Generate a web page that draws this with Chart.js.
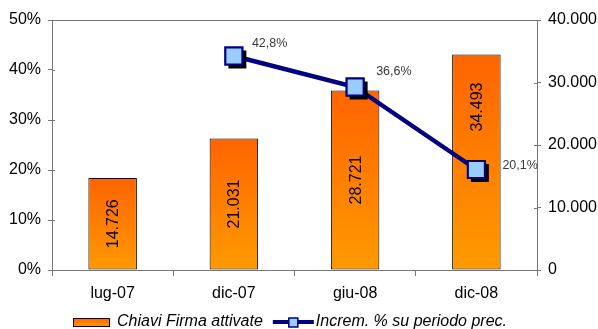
<!DOCTYPE html>
<html>
<head>
<meta charset="utf-8">
<script src="https://cdn.jsdelivr.net/npm/chart.js@4/dist/chart.umd.min.js"></script>
<style>
  html, body { margin: 0; padding: 0; background: #ffffff; }
  #wrap { width: 598px; height: 329px; }
</style>
</head>
<body>
<div id="wrap"><canvas id="c" width="598" height="329"></canvas></div>
<script>
// Periods on the x axis
const categories = ['lug-07', 'dic-07', 'giu-08', 'dic-08'];
// Signature keys activated (right axis)
const chiaviAttivate = [14726, 21031, 28721, 34493];
// Percent increase over the previous period (left axis)
const incremento = [null, 42.8, 36.6, 20.1];
// Axis ticks
const leftTicks = [0, 10, 20, 30, 40, 50];
const rightTicks = [0, 10000, 20000, 30000, 40000];

const FONT = '"Liberation Sans", Arial, sans-serif';
const AXIS_COLOR = '#767676';
const NAVY = '#000080';
const MARKER_FILL = '#99CCFF';

const fmtThousands = v => String(Math.round(v)).replace(/\B(?=(\d{3})+(?!\d))/g, '.');
const fmtPct = v => v.toFixed(1).replace('.', ',') + '%';

function barGradient(c) {
  const chart = c.chart;
  if (!chart.chartArea || c.type !== 'data') return '#FF7F00';
  const s = chart.scales.y2;
  const top = s.getPixelForValue(c.raw);
  const base = s.getPixelForValue(0);
  const g = chart.ctx.createLinearGradient(0, top, 0, base);
  g.addColorStop(0, '#FF6400');
  g.addColorStop(1, '#FF9A00');
  return g;
}

// Plot frame top line and inward half of the cross ticks
const framePlugin = {
  id: 'frame',
  beforeDatasetsDraw(chart) {
    const { ctx, chartArea: a, scales } = chart;
    ctx.save();
    ctx.strokeStyle = AXIS_COLOR;
    ctx.lineWidth = 1;
    ctx.beginPath();
    ctx.moveTo(a.left, a.top + 0.5);
    ctx.lineTo(a.right, a.top + 0.5);
    scales.y.ticks.forEach(t => {
      const y = Math.round(scales.y.getPixelForValue(t.value)) + 0.5;
      ctx.moveTo(a.left, y); ctx.lineTo(a.left + 3, y);
    });
    scales.y2.ticks.forEach(t => {
      const y = Math.round(scales.y2.getPixelForValue(t.value)) + 0.5;
      ctx.moveTo(a.right - 3, y); ctx.lineTo(a.right, y);
    });
    ctx.stroke();
    ctx.restore();
  }
};

// Marker drop shadows, value labels and the legend
const labelsPlugin = {
  id: 'valueLabels',
  afterDatasetsDraw(chart, args, opts) {
    const { ctx } = chart;
    const barMeta = chart.getDatasetMeta(0);
    const lineMeta = chart.getDatasetMeta(1);

    // shadows under the markers, then markers redrawn on top
    lineMeta.data.forEach((pt, i) => {
      if (incremento[i] == null) return;
      const half = 12 * Math.SQRT1_2;
      ctx.save();
      ctx.fillStyle = '#000000';
      ctx.fillRect(pt.x - half + 3, pt.y - half + 3, half * 2 + 1, half * 2 + 1);
      ctx.restore();
      pt.draw(ctx, chart.chartArea);
    });

    // bar value labels, rotated
    ctx.save();
    ctx.font = '16px ' + FONT;
    ctx.fillStyle = '#000000';
    ctx.textAlign = 'center';
    ctx.textBaseline = 'middle';
    barMeta.data.forEach((bar, i) => {
      const text = fmtThousands(chiaviAttivate[i]);
      const w = ctx.measureText(text).width;
      let cy = (bar.y + bar.base) / 2;
      const pt = lineMeta.data[i];
      if (incremento[i] != null && pt) {
        const markerTop = pt.y - 10;
        if (pt.y + 10 > cy - w / 2 && markerTop < cy + w / 2) {
          cy = (bar.y + markerTop) / 2;
        }
      }
      ctx.save();
      ctx.translate(bar.x, cy);
      ctx.rotate(-Math.PI / 2);
      ctx.fillText(text, 0, 1);
      ctx.restore();
    });
    ctx.restore();

    // percent labels next to the markers
    ctx.save();
    ctx.font = '12.5px ' + FONT;
    ctx.fillStyle = '#3a3a3a';
    ctx.textAlign = 'left';
    ctx.textBaseline = 'middle';
    lineMeta.data.forEach((pt, i) => {
      if (incremento[i] == null) return;
      const off = opts.offsets[i] || [18, -12];
      ctx.fillText(fmtPct(incremento[i]), pt.x + off[0], pt.y + off[1]);
    });
    ctx.restore();

    // legend
    const ly = 322;
    ctx.save();
    ctx.font = 'italic 16px ' + FONT;
    ctx.textBaseline = 'middle';
    ctx.textAlign = 'left';
    let x = 73;
    const g = ctx.createLinearGradient(0, ly - 4, 0, ly + 5);
    g.addColorStop(0, '#FF6400');
    g.addColorStop(1, '#FF9A00');
    ctx.fillStyle = g;
    ctx.fillRect(x, ly - 4, 37, 9);
    ctx.strokeStyle = '#000000';
    ctx.lineWidth = 1;
    ctx.strokeRect(x + 0.5, ly - 3.5, 36, 8);
    x += 44;
    ctx.fillStyle = '#000000';
    ctx.fillText(chart.data.datasets[0].label, x, ly);
    x += ctx.measureText(chart.data.datasets[0].label).width + 10;
    ctx.strokeStyle = NAVY;
    ctx.lineWidth = 4;
    ctx.beginPath();
    ctx.moveTo(x, ly); ctx.lineTo(x + 41, ly);
    ctx.stroke();
    ctx.fillStyle = MARKER_FILL;
    ctx.lineWidth = 1.5;
    ctx.fillRect(x + 16, ly - 4, 9, 9);
    ctx.strokeRect(x + 16, ly - 4, 9, 9);
    x += 43;
    ctx.fillStyle = '#000000';
    ctx.fillText(chart.data.datasets[1].label, x, ly);
    ctx.restore();
  }
};

new Chart(document.getElementById('c'), {
  data: {
    labels: categories,
    datasets: [
      {
        type: 'bar',
        label: 'Chiavi Firma attivate',
        data: chiaviAttivate,
        yAxisID: 'y2',
        backgroundColor: barGradient,
        borderColor: '#000000',
        borderWidth: 1,
        borderSkipped: false,
        barPercentage: 0.4,
        categoryPercentage: 1,
        order: 2
      },
      {
        type: 'line',
        label: 'Increm. % su periodo prec.',
        data: incremento,
        yAxisID: 'y',
        borderColor: NAVY,
        borderWidth: 4.5,
        tension: 0,
        pointStyle: 'rect',
        pointRadius: 12,
        pointBorderWidth: 2,
        pointBorderColor: NAVY,
        pointBackgroundColor: MARKER_FILL,
        order: 1
      }
    ]
  },
  options: {
    responsive: false,
    animation: false,
    devicePixelRatio: 1,
    layout: { padding: { top: 20, left: 0, right: 0, bottom: 0 } },
    plugins: {
      legend: { display: false },
      tooltip: { enabled: false },
      valueLabels: { offsets: [null, [18, -12], [21, -15], [26, -4]] }
    },
    scales: {
      x: {
        offset: true,
        grid: { offset: true, drawOnChartArea: false, drawTicks: true, tickLength: 6, color: AXIS_COLOR },
        border: { color: AXIS_COLOR, width: 1 },
        ticks: { color: '#000000', font: { family: FONT, size: 16 }, padding: 8, maxRotation: 0 },
        afterFit: s => { s.height = 59; }
      },
      y: {
        position: 'left',
        min: 0, max: 50,
        afterBuildTicks: s => { s.ticks = leftTicks.map(v => ({ value: v })); },
        grid: { drawOnChartArea: false, drawTicks: true, tickLength: 4, color: AXIS_COLOR },
        border: { color: AXIS_COLOR, width: 1 },
        ticks: { color: '#000000', font: { family: FONT, size: 16 }, padding: 7, callback: v => v + '%' },
        afterFit: s => { s.width = 52; }
      },
      y2: {
        position: 'right',
        min: 0, max: 40000,
        afterBuildTicks: s => { s.ticks = rightTicks.map(v => ({ value: v })); },
        grid: { drawOnChartArea: false, drawTicks: true, tickLength: 4, color: AXIS_COLOR },
        border: { color: AXIS_COLOR, width: 1 },
        ticks: { color: '#000000', font: { family: FONT, size: 16 }, padding: 7, callback: v => fmtThousands(v) },
        afterFit: s => { s.width = 61; }
      }
    }
  },
  plugins: [framePlugin, labelsPlugin]
});
</script>
</body>
</html>
